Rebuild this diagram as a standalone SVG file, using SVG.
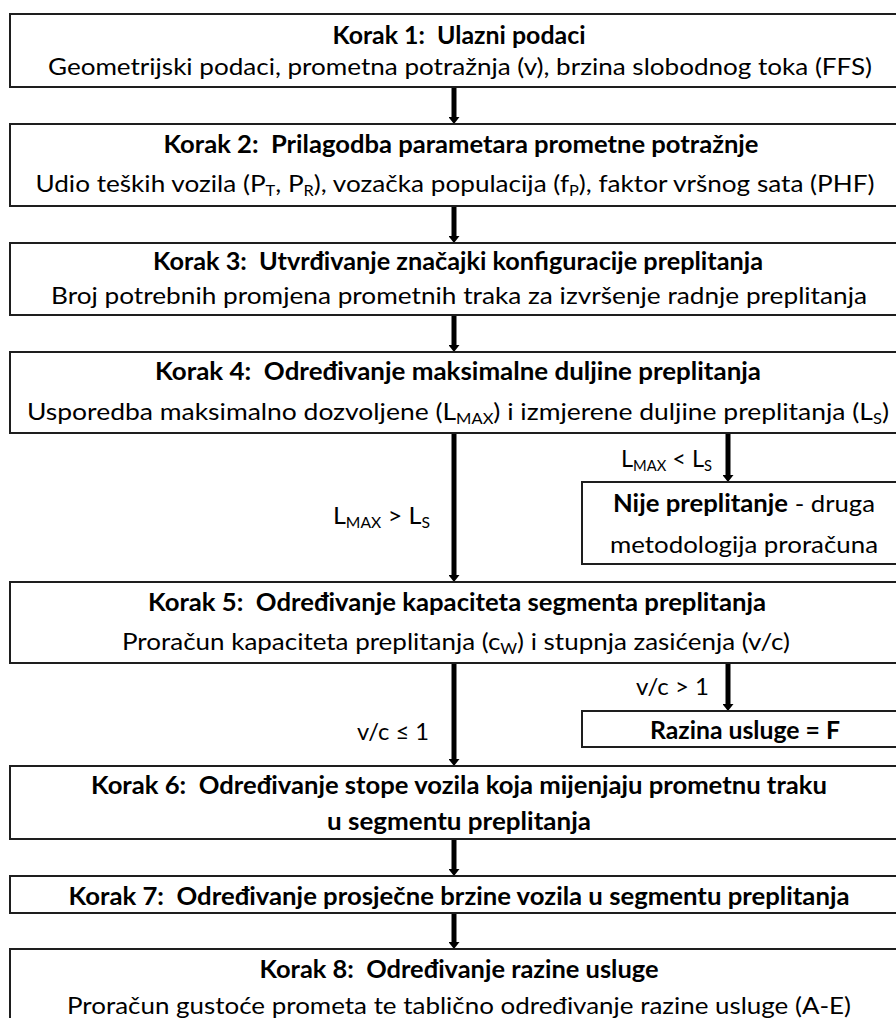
<svg xmlns="http://www.w3.org/2000/svg" width="896" height="1018" viewBox="0 0 896 1018">
<style>
.box{fill:#fff;stroke:#1e1e1e;stroke-width:2}
text{font-family:Lato,"Open Sans","Liberation Sans",sans-serif;font-size:24px;fill:#000;white-space:pre}
.t{font-weight:bold;text-anchor:middle}
.s{text-anchor:middle}
.l{text-anchor:start}
.sub{font-size:15px}
.con{stroke:#000;stroke-width:5;fill:none;marker-end:url(#ah)}
</style>
<defs>
<marker id="ah" markerUnits="userSpaceOnUse" markerWidth="7" markerHeight="11" refX="0" refY="5.5" orient="auto" viewBox="0 0 7 11">
<path d="M0,0 L7,5.5 L0,11 z" fill="#000"/>
</marker>
</defs>
<rect width="896" height="1018" fill="#fff"/>

<g id="connectors">
<line class="con" x1="454" y1="87" x2="454" y2="117"/>
<line class="con" x1="454" y1="206" x2="454" y2="236"/>
<line class="con" x1="454" y1="315" x2="454" y2="345"/>
<line class="con" x1="454" y1="433" x2="454" y2="575"/>
<line class="con" x1="728" y1="433" x2="728" y2="475"/>
<line class="con" x1="454" y1="663" x2="454" y2="759"/>
<line class="con" x1="728" y1="663" x2="728" y2="704"/>
<line class="con" x1="454" y1="839" x2="454" y2="869"/>
<line class="con" x1="454" y1="913" x2="454" y2="942"/>
<text class="l" x="621" y="467" textLength="91" lengthAdjust="spacingAndGlyphs">L<tspan class="sub" dy="4">MAX</tspan><tspan dy="-4"> &lt; L</tspan><tspan class="sub" dy="4">S</tspan></text>
<text class="l" x="333" y="524" textLength="97" lengthAdjust="spacingAndGlyphs">L<tspan class="sub" dy="4">MAX</tspan><tspan dy="-4"> &gt; L</tspan><tspan class="sub" dy="4">S</tspan></text>
<text class="l" x="636" y="695" textLength="73" lengthAdjust="spacingAndGlyphs">v/c &gt; 1</text>
<text class="l" x="357" y="740" textLength="72" lengthAdjust="spacingAndGlyphs">v/c ≤ 1</text>
</g>

<g id="step1">
<rect class="box" x="10" y="14" width="895" height="73"/>
<text class="t" x="459" y="44" textLength="253" lengthAdjust="spacingAndGlyphs">Korak 1:  Ulazni podaci</text>
<text class="s" x="460" y="75" textLength="824" lengthAdjust="spacingAndGlyphs">Geometrijski podaci, prometna potražnja (v), brzina slobodnog toka (FFS)</text>
</g>

<g id="step2">
<rect class="box" x="10" y="124" width="895" height="82"/>
<text class="t" x="461" y="153" textLength="595" lengthAdjust="spacingAndGlyphs">Korak 2:  Prilagodba parametara prometne potražnje</text>
<text class="s" x="455" y="192" textLength="839" lengthAdjust="spacingAndGlyphs">Udio teških vozila (P<tspan class="sub" dy="4">T</tspan><tspan dy="-4">, P</tspan><tspan class="sub" dy="4">R</tspan><tspan dy="-4">), vozačka populacija (f</tspan><tspan class="sub" dy="4">P</tspan><tspan dy="-4">), faktor vršnog sata (PHF)</tspan></text>
</g>

<g id="step3">
<rect class="box" x="10" y="243" width="895" height="72"/>
<text class="t" x="458" y="270" textLength="610" lengthAdjust="spacingAndGlyphs">Korak 3:  Utvrđivanje značajki konfiguracije preplitanja</text>
<text class="s" x="459" y="304" textLength="816" lengthAdjust="spacingAndGlyphs">Broj potrebnih promjena prometnih traka za izvršenje radnje preplitanja</text>
</g>

<g id="step4">
<rect class="box" x="10" y="352" width="895" height="81"/>
<text class="t" x="458" y="380" textLength="606" lengthAdjust="spacingAndGlyphs">Korak 4:  Određivanje maksimalne duljine preplitanja</text>
<text class="s" x="458" y="420" textLength="862" lengthAdjust="spacingAndGlyphs">Usporedba maksimalno dozvoljene (L<tspan class="sub" dy="4">MAX</tspan><tspan dy="-4">) i izmjerene duljine preplitanja (L</tspan><tspan class="sub" dy="4">S</tspan><tspan dy="-4">)</tspan></text>
</g>

<g id="not-weaving">
<rect class="box" x="582" y="482" width="323" height="82"/>
<text class="s" x="744" y="512" textLength="262" lengthAdjust="spacingAndGlyphs"><tspan font-weight="bold">Nije preplitanje</tspan> - druga</text>
<text class="s" x="744" y="553" textLength="268" lengthAdjust="spacingAndGlyphs">metodologija proračuna</text>
</g>

<g id="step5">
<rect class="box" x="10" y="582" width="895" height="81"/>
<text class="t" x="457" y="611" textLength="618" lengthAdjust="spacingAndGlyphs">Korak 5:  Određivanje kapaciteta segmenta preplitanja</text>
<text class="s" x="456" y="650" textLength="668" lengthAdjust="spacingAndGlyphs">Proračun kapaciteta preplitanja (c<tspan class="sub" dy="4">W</tspan><tspan dy="-4">) i stupnja zasićenja (v/c)</tspan></text>
</g>

<g id="los-f">
<rect class="box" x="582" y="711" width="323" height="36"/>
<text class="t" x="745" y="739" textLength="190" lengthAdjust="spacingAndGlyphs">Razina usluge = F</text>
</g>

<g id="step6">
<rect class="box" x="10" y="766" width="895" height="73"/>
<text class="t" x="459" y="794" textLength="736" lengthAdjust="spacingAndGlyphs">Korak 6:  Određivanje stope vozila koja mijenjaju prometnu traku</text>
<text class="t" x="459" y="830" textLength="264" lengthAdjust="spacingAndGlyphs">u segmentu preplitanja</text>
</g>

<g id="step7">
<rect class="box" x="10" y="876" width="895" height="37"/>
<text class="t" x="459" y="905" textLength="781" lengthAdjust="spacingAndGlyphs">Korak 7:  Određivanje prosječne brzine vozila u segmentu preplitanja</text>
</g>

<g id="step8">
<rect class="box" x="10" y="949" width="895" height="90"/>
<text class="t" x="459" y="978" textLength="399" lengthAdjust="spacingAndGlyphs">Korak 8:  Određivanje razine usluge</text>
<text class="s" x="459" y="1014" textLength="784" lengthAdjust="spacingAndGlyphs">Proračun gustoće prometa te tablično određivanje razine usluge (A-E)</text>
</g>
</svg>
